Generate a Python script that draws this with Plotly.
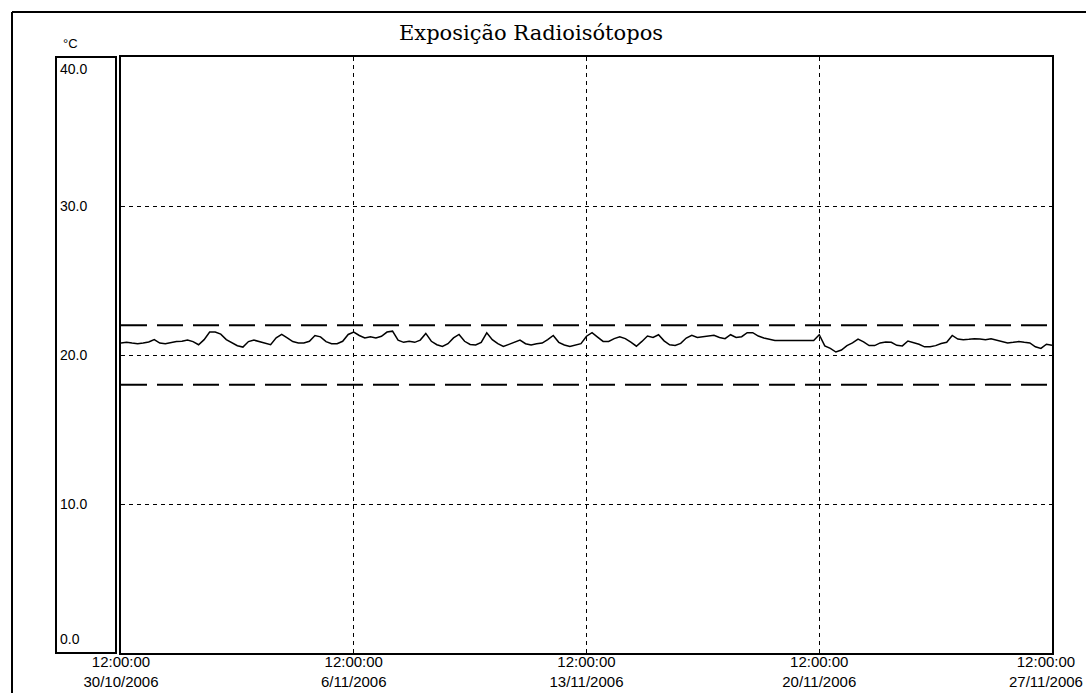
import pandas as pd
import plotly.graph_objects as go

# ---- data ----
title_text = "Exposição Radioisótopos"
unit_label = "°C"
start_time = "2006-10-30 12:00"
step = "4h"

week1 = [20.81, 20.85, 20.8, 20.76, 20.8, 20.87, 21.03, 20.8, 20.76, 20.85,
         20.9, 20.92, 21.0, 20.9, 20.69, 21.03, 21.54, 21.54, 21.4, 21.03,
         20.85, 20.62, 20.53, 20.9, 21.0, 20.9, 20.76, 20.69, 21.15, 21.38,
         21.15, 20.9, 20.8, 20.8, 20.92, 21.31, 21.22, 20.9, 20.76, 20.76,
         20.92, 21.38, 21.54]
week2 = [21.31, 21.15, 21.22, 21.15, 21.26, 21.54, 21.6, 21.0, 20.85, 20.92,
         20.85, 21.0, 21.45, 20.92, 20.69, 20.57, 20.76, 21.15, 21.38, 20.92,
         20.71, 20.67, 20.85, 21.49, 21.03, 20.76, 20.57, 20.71, 20.85, 21.0,
         20.76, 20.67, 20.76, 20.8, 21.03, 21.31, 20.85, 20.67, 20.57, 20.69,
         20.76, 21.26]
week3 = [21.5, 21.2, 20.91, 20.91, 21.1, 21.23, 21.1, 20.86, 20.59, 20.91,
         21.27, 21.18, 21.36, 20.95, 20.68, 20.64, 20.78, 21.14, 21.32, 21.18,
         21.23, 21.27, 21.32, 21.18, 21.1, 21.36, 21.18, 21.23, 21.5, 21.5,
         21.27, 21.14, 21.05, 20.98, 20.98, 20.98, 20.98, 20.98, 20.98, 20.98,
         20.98, 21.36]
week4 = [20.61, 20.44, 20.2, 20.33, 20.63, 20.81, 21.07, 20.88, 20.63, 20.63,
         20.81, 20.88, 20.85, 20.65, 20.61, 20.94, 20.85, 20.72, 20.55, 20.55,
         20.63, 20.77, 20.85, 21.31, 21.07, 21.03, 21.05, 21.09, 21.07, 21.03,
         21.09, 20.98, 20.9, 20.81, 20.85, 20.9, 20.85, 20.81, 20.55, 20.44,
         20.72, 20.65]
temperature = week1 + week2 + week3 + week4

upper_limit = 22.0
lower_limit = 18.0

x_tick_dates = ["2006-10-30 12:00", "2006-11-06 12:00", "2006-11-13 12:00",
                "2006-11-20 12:00", "2006-11-27 12:00"]
x_tick_text = ["12:00:00<br>30/10/2006", "12:00:00<br>6/11/2006",
               "12:00:00<br>13/11/2006", "12:00:00<br>20/11/2006",
               "12:00:00<br>27/11/2006"]
y_tick_vals = [40, 30, 20, 10, 0]
y_tick_text = ["40.0", "30.0", "20.0", "10.0", "0.0"]
y_label_anchor = ["top", "middle", "middle", "middle", "bottom"]

# ---- figure ----
times = pd.date_range(start_time, periods=len(temperature), freq=step)

W, H = 1086, 693
L, R, T, B = 121, 1052, 57, 653
pw = R - L
tick_font = dict(family="Liberation Sans Narrow, Liberation Sans", size=15, color="black")

fig = go.Figure()
fig.add_trace(go.Scatter(x=[times[0], times[-1]], y=[upper_limit, upper_limit],
                         mode="lines", line=dict(color="black", width=2, dash="26px,10px"),
                         hoverinfo="skip", showlegend=False))
fig.add_trace(go.Scatter(x=[times[0], times[-1]], y=[lower_limit, lower_limit],
                         mode="lines", line=dict(color="black", width=2, dash="26px,10px"),
                         hoverinfo="skip", showlegend=False))
fig.add_trace(go.Scatter(x=times, y=temperature, mode="lines",
                         line=dict(color="black", width=1.5), showlegend=False))

annotations = [
    dict(text=title_text, x=(531 - L) / pw, y=1, xref="paper", yref="paper",
         yshift=24, xanchor="center", yanchor="middle", showarrow=False,
         font=dict(family="DejaVu Serif", size=21, color="black")),
    dict(text=unit_label, x=(61 - L) / pw, y=1, xref="paper", yref="paper",
         xanchor="left", yanchor="bottom", yshift=4, showarrow=False,
         font=dict(family="Liberation Sans", size=13, color="black")),
    # last x label, nudged left so it stays inside the page
    dict(text=x_tick_text[-1], x=x_tick_dates[-1], y=0, xref="x", yref="paper",
         xanchor="center", yanchor="top", xshift=-6, yshift=2, showarrow=False,
         font=tick_font),
]
for v, t, a in zip(y_tick_vals, y_tick_text, y_label_anchor):
    annotations.append(dict(text=t, x=(58 - L) / pw, y=v, xref="paper", yref="y",
                            xanchor="left", yanchor=a, showarrow=False,
                            yshift=(-2 if a == "top" else (4 if a == "bottom" else 0)),
                            font=dict(family="Liberation Sans", size=14, color="black")))

shapes = [
    # left label box
    dict(type="rect", xref="paper", yref="paper", x0=(56 - L) / pw, x1=(116 - L) / pw,
         y0=0, y1=1, line=dict(color="black", width=2)),
    # outer scan frame
    dict(type="line", xref="paper", yref="paper", x0=(12 - L) / pw, x1=(W - L) / pw,
         y0=(B - 12) / (B - T), y1=(B - 12) / (B - T), line=dict(color="black", width=2)),
    dict(type="line", xref="paper", yref="paper", x0=(12 - L) / pw, x1=(12 - L) / pw,
         y0=(B - H) / (B - T), y1=(B - 12) / (B - T), line=dict(color="black", width=2)),
]

fig.update_layout(
    width=W, height=H,
    margin=dict(l=L, r=W - R, t=T, b=H - B, autoexpand=False),
    paper_bgcolor="white", plot_bgcolor="white",
    annotations=annotations, shapes=shapes,
    xaxis=dict(
        range=[pd.Timestamp(x_tick_dates[0]), pd.Timestamp(x_tick_dates[-1])],
        tickvals=x_tick_dates, ticktext=x_tick_text[:-1] + [""], ticks="",
        automargin=False, ticklabeloverflow="allow", ticklabelstandoff=-6,
        showgrid=True, gridcolor="black", gridwidth=1, griddash="4px,4px",
        showline=True, linecolor="black", linewidth=2, mirror=True,
        zeroline=False,
        tickfont=tick_font,
    ),
    yaxis=dict(
        range=[0, 40], tickvals=[10, 20, 30], showticklabels=False, ticks="",
        automargin=False,
        showgrid=True, gridcolor="black", gridwidth=1, griddash="4px,4px",
        showline=True, linecolor="black", linewidth=2, mirror=True, zeroline=False,
    ),
)

fig.write_html("out.html", config={"displayModeBar": False},
               post_script="document.body.style.margin='0';document.body.style.overflow='hidden';")
